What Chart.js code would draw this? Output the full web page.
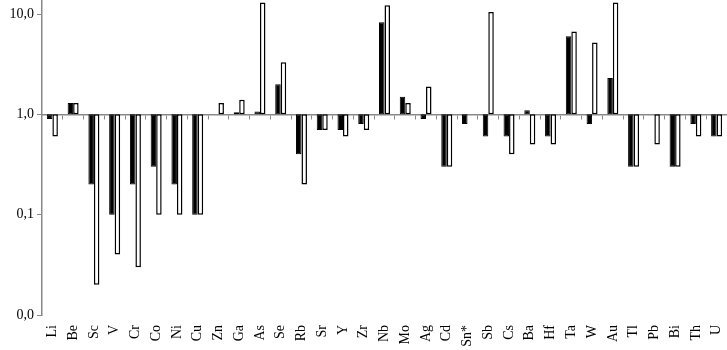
<!DOCTYPE html>
<html>
<head>
<meta charset="utf-8">
<script src="https://cdn.jsdelivr.net/npm/chart.js@4/dist/chart.umd.min.js"></script>
<style>
  html, body { margin: 0; padding: 0; background: #fff; }
  #wrap { width: 727px; height: 350px; position: relative; }
</style>
</head>
<body>
<div id="wrap"><canvas id="chart"></canvas></div>
<script>
// element labels
const elements = ["Li","Be","Sc","V","Cr","Co","Ni","Cu","Zn","Ga","As","Se","Rb","Sr","Y","Zr",
    "Nb","Mo","Ag","Cd","Sn*","Sb","Cs","Ba","Hf","Ta","W","Au","Tl","Pb","Bi","Th","U"];

// ratios (null = no bar)
const blackValues = [0.9, 1.3, 0.2, 0.1, 0.2, 0.3, 0.2, 0.1, null, 1.05, 1.07, 2.0, 0.4, 0.7, 0.7, 0.8,
    8.3, 1.5, 0.9, 0.3, 0.8, 0.6, 0.6, 1.1, 0.6, 6.0, 0.8, 2.3, 0.3, null, 0.3, 0.8, 0.6];
const whiteValues = [0.6, 1.3, 0.02, 0.04, 0.03, 0.1, 0.1, 0.1, 1.3, 1.4, 13, 3.3, 0.2, 0.7, 0.6, 0.7,
    12.2, 1.3, 1.9, 0.3, null, 10.5, 0.4, 0.5, 0.5, 6.7, 5.2, 13, 0.3, 0.5, 0.3, 0.6, 0.6];

const yTicks = [0.01, 0.1, 1, 10];
const yTickLabels = ["0,0", "0,1", "1,0", "10,0"];

const baseline = 1;
const toFloating = arr => arr.map(v => v === null ? null : [baseline, v]);

const font = { family: "'Liberation Serif', 'Times New Roman', serif", size: 14 };

new Chart(document.getElementById("chart"), {
    type: "bar",
    data: {
        labels: elements,
        datasets: [{
            data: toFloating(blackValues),
            backgroundColor: "#000",
            borderColor: "#000",
            borderWidth: 1,
            borderSkipped: false,
            categoryPercentage: 0.53,
            barPercentage: 1
        }, {
            data: toFloating(whiteValues),
            backgroundColor: "#fff",
            borderColor: "#000",
            borderWidth: 1.5,
            borderSkipped: false,
            categoryPercentage: 0.53,
            barPercentage: 1
        }]
    },
    options: {
        responsive: true,
        maintainAspectRatio: false,
        animation: false,
        layout: { padding: 0 },
        plugins: {
            legend: { display: false },
            tooltip: { enabled: false }
        },
        scales: {
            x: {
                position: "bottom",
                afterFit: axis => {
                    axis.height = 35;
                    axis.paddingLeft = 0;
                    axis.paddingRight = 0;
                },
                grid: { display: false },
                border: { display: false },
                ticks: {
                    color: "#000",
                    font,
                    maxRotation: 90,
                    minRotation: 90,
                    padding: 2,
                    autoSkip: false
                }
            },
            x2: {
                type: "category",
                labels: elements,
                position: { y: baseline },
                offset: true,
                grid: {
                    offset: true,
                    drawOnChartArea: false,
                    drawTicks: true,
                    tickLength: 4,
                    color: "#888"
                },
                border: { display: true, color: "#888", width: 1.5 },
                ticks: { display: false }
            },
            y: {
                type: "logarithmic",
                min: 0.01,
                max: 13.8,
                afterFit: axis => {
                    axis.width = 42;
                    axis.paddingTop = 0;
                    axis.paddingBottom = 0;
                },
                afterBuildTicks: axis => {
                    axis.ticks = yTicks.map(v => ({ value: v }));
                },
                grid: {
                    drawOnChartArea: false,
                    drawTicks: true,
                    tickLength: 5,
                    color: "#888"
                },
                border: { display: true, color: "#888", width: 1.5 },
                ticks: {
                    color: "#000",
                    font,
                    padding: 3,
                    callback: (v, i) => yTickLabels[i]
                }
            }
        }
    }
});
</script>
</body>
</html>
